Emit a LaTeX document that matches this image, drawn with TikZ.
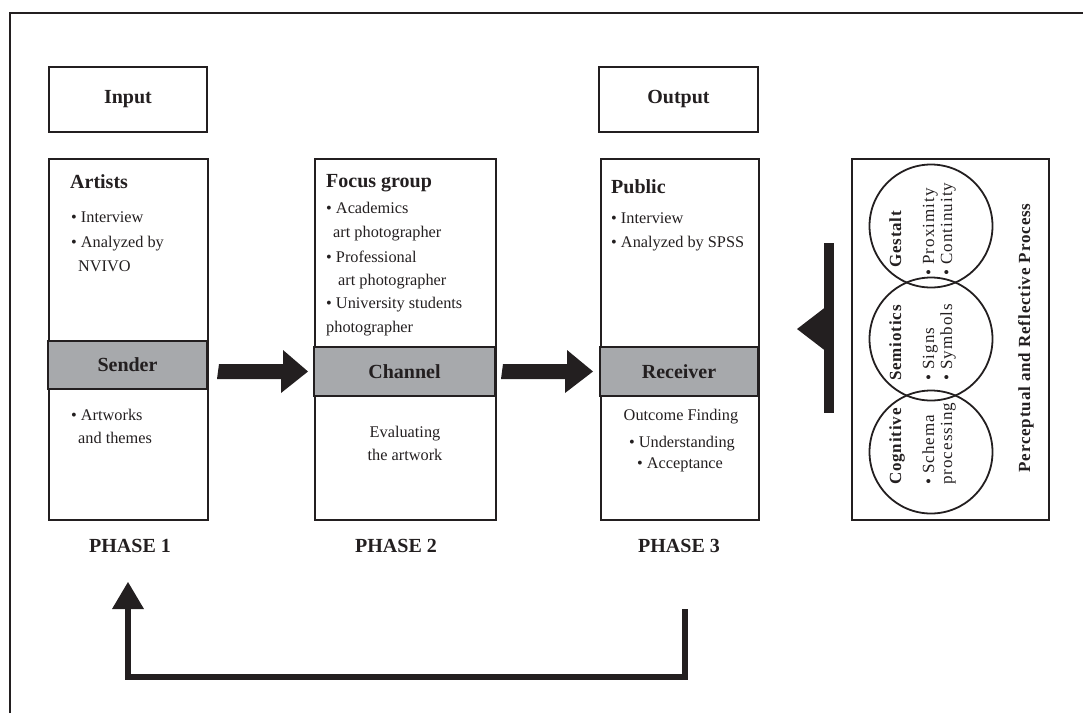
\documentclass[tikz,border=0pt]{standalone}
\usepackage{fontspec}
\setmainfont{Liberation Serif}
\newfontfamily\spaced[LetterSpace=6]{Liberation Serif}
\newfontfamily\spacedh[LetterSpace=5]{Liberation Serif}
\usetikzlibrary{calc}
\definecolor{ink}{HTML}{231F20}
\definecolor{band}{HTML}{A7A9AC}
\tikzset{
  box/.style={draw=ink, line width=2pt, inner sep=0pt},
  bandbox/.style={box, fill=band, font=\fontsize{20}{24}\selectfont\bfseries, text=ink},
  hd/.style={font=\fontsize{20}{24}\selectfont\bfseries, text=ink, inner sep=0pt},
  bd/.style={font=\fontsize{16.3}{20}\selectfont, text=ink, inner sep=0pt, anchor=base west},
  bdc/.style={bd, anchor=base},
  circ/.style={circle, draw=ink, line width=1.8pt, minimum size=123pt, inner sep=0pt},
  rott/.style={rotate=90, anchor=base west, inner sep=0pt, text=ink, font=\fontsize{17}{18}\spacedh\bfseries},
  rotb/.style={rotate=90, anchor=base west, inner sep=0pt, text=ink, font=\fontsize{17}{18}\spaced},
  fb/.style={draw=ink, line width=6pt, line join=miter},
  blk/.style={fill=ink}
}
\begin{document}
\begin{tikzpicture}[x=1pt,y=-1pt]
\useasboundingbox (0,0) rectangle (1083,713);
% outer frame (clipped by page)
\draw[ink, line width=2.5pt] (10,713) -- (10,13) -- (1083,13);

% top boxes
\node[box, minimum width=158pt, minimum height=65pt, hd] (inp) at (128,99.5) {Input};
\node[box, minimum width=159pt, minimum height=65pt, hd] (outp) at (678.5,99.5) {Output};

% phase boxes
\node[box, minimum width=159pt, minimum height=361pt, anchor=north west] (p1) at (48,158) {};
\node[box, minimum width=181pt, minimum height=361pt, anchor=north west] (p2) at (314,158) {};
\node[box, minimum width=158pt, minimum height=361pt, anchor=north west] (p3) at (600,158) {};
\node[bandbox, minimum width=159pt, minimum height=48pt] (snd) at (127.5,365) {Sender};
\node[bandbox, minimum width=181pt, minimum height=49pt] (chn) at (404.5,371.5) {Channel};
\node[bandbox, minimum width=158pt, minimum height=49pt] (rcv) at (679,371.5) {Receiver};

% phase 1 texts
\node[hd, anchor=base west] (t1h) at (70,188) {Artists};
\node[bd] (t1a) at (71,222) {• Interview};
\node[bd] (t1b) at (71,247) {• Analyzed by};
\node[bd] (t1c) at (78,271) {NVIVO};
\node[bd] (t1d) at (71,420) {• Artworks};
\node[bd] (t1e) at (78,443) {and themes};

% phase 2 texts
\node[hd, anchor=base west] (t2h) at (326,187) {Focus group};
\node[bd] (t2a) at (326,213) {• Academics};
\node[bd] (t2b) at (333,237) {art photographer};
\node[bd] (t2c) at (326,262) {• Professional};
\node[bd] (t2d) at (338,285) {art photographer};
\node[bd] (t2e) at (326,308) {• University students};
\node[bd] (t2f) at (326,332) {photographer};
\node[bdc] (t2g) at (405,437) {Evaluating};
\node[bdc] (t2i) at (405,460) {the artwork};

% phase 3 texts
\node[hd, anchor=base west] (t3h) at (611,193) {Public};
\node[bd] (t3a) at (611,223) {• Interview};
\node[bd] (t3b) at (611,247) {• Analyzed by SPSS};
\node[bdc] (t3c) at (681,420) {Outcome Finding};
\node[bdc] (t3d) at (682,447) {• Understanding};
\node[bdc] (t3e) at (680,468) {• Acceptance};

% phase labels
\node[hd, anchor=base] (ph1) at (130,552) {PHASE 1};
\node[hd, anchor=base] (ph2) at (396,552) {PHASE 2};
\node[hd, anchor=base] (ph3) at (679,552) {PHASE 3};

% right box with circles
\node[box, minimum width=197pt, minimum height=361pt, anchor=north west] (rb) at (851,158) {};
\node[circ] (cg) at (931,226) {};
\node[circ] (cs) at (931,339) {};
\node[circ] (cc) at (931,452) {};
\node[rott] (g0) at (901,268) {Gestalt};
\node[rotb] (g1) at (934,276) {• Proximity};
\node[rotb] (g2) at (952,276) {• Continuity};
\node[rott] (s0) at (901,381) {Semiotics};
\node[rotb] (s1) at (934,381) {• Signs};
\node[rotb] (s2) at (952,381) {• Symbols};
\node[rott] (c0) at (901,485) {Cognitive};
\node[rotb] (c1) at (934,485) {• Schema};
\node[rotb] (c2) at (952,485) {processing};
\node[rott, anchor=base] (per) at (1030,338) {Perceptual and Reflective Process};

% block arrows between phases
\coordinate (a1s) at ([xshift=10pt]p1.east |- chn.center);
\coordinate (a1e) at ([xshift=-6pt]p2.west |- chn.center);
\coordinate (a2s) at ([xshift=6pt]p2.east |- chn.center);
\coordinate (a2e) at ([xshift=-7pt]p3.west |- chn.center);
\fill[blk] (a1s) ++(0,-7.5) -- ++(64,0) -- ++(0,-14) -- (a1e) -- ++(-27,21.5) -- ++(0,-14) -- ++(-64,0) -- cycle;
\fill[blk] (a2s) ++(0,-7.5) -- ++(64,0) -- ++(0,-14) -- (a2e) -- ++(-28,21.5) -- ++(0,-14) -- ++(-64,0) -- cycle;

% left-pointing arrow from the right box
\coordinate (ltip) at (797,329);
\fill[blk] (824,243) rectangle (834,413);
\fill[blk] (ltip) -- (825,307.5) -- (825,350.5) -- cycle;

% feedback arrow
\coordinate (fbs) at (685,609);
\coordinate (fbl) at (0,677);
\coordinate (fbh) at (128,609);
\coordinate (fbe) at (128,582);
\draw[fb] (fbs) -- (fbs |- fbl) -- (fbh |- fbl) -- (fbh);
\fill[blk] (fbe) -- ([xshift=-16pt]fbh) -- ([xshift=16pt]fbh) -- cycle;
\end{tikzpicture}
\end{document}
